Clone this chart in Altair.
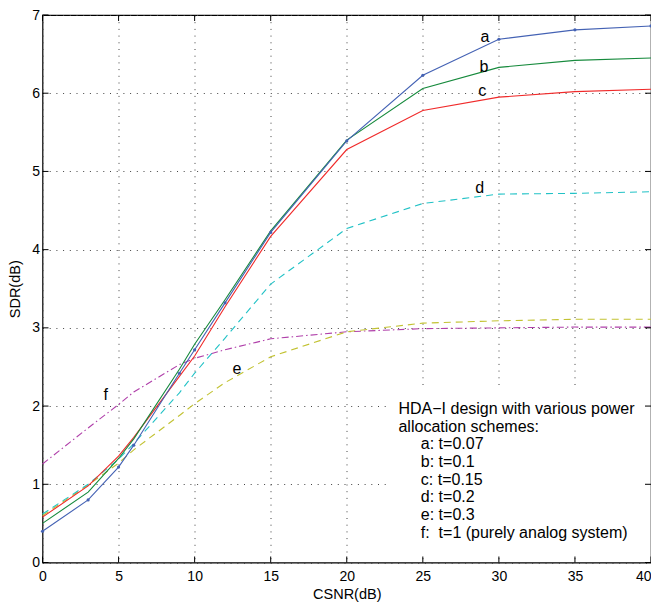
import altair as alt
import pandas as pd

# ---- data ----
csnr = [0, 3, 5, 6, 9, 10, 12, 15, 20, 25, 30, 35, 40]
sdr_a = [0.40, 0.80, 1.22, 1.50, 2.42, 2.72, 3.32, 4.22, 5.39, 6.23, 6.69, 6.81, 6.86]
sdr_b = [0.50, 0.90, 1.33, 1.58, 2.47, 2.79, 3.36, 4.24, 5.40, 6.06, 6.33, 6.42, 6.45]
sdr_c = [0.58, 0.98, 1.36, 1.60, 2.38, 2.64, 3.27, 4.17, 5.28, 5.78, 5.95, 6.02, 6.05]
sdr_d = [0.62, 1.00, 1.32, 1.52, 2.17, 2.42, 2.87, 3.56, 4.27, 4.59, 4.71, 4.72, 4.74]
sdr_e = [0.60, 0.99, 1.27, 1.44, 1.88, 2.03, 2.30, 2.63, 2.95, 3.06, 3.09, 3.11, 3.11]
sdr_f = [1.26, 1.72, 2.02, 2.18, 2.53, 2.61, 2.72, 2.86, 2.95, 2.99, 3.00, 3.01, 3.01]

series_names = ["a", "b", "c", "d", "e", "f"]
series_values = [sdr_a, sdr_b, sdr_c, sdr_d, sdr_e, sdr_f]
series_colors = ["#4462b4", "#168a3c", "#f02a2a", "#22c2c6", "#c2c232", "#b040aa"]
series_dash = [None, None, None, [7, 5], [7, 5], [7, 3, 1.5, 3]]

# curve labels (data coordinates)
label_text = ["a", "b", "c", "d", "e", "f"]
label_x = [29.08, 29.02, 28.90, 28.74, 12.79, 4.15]
label_y = [6.656, 6.276, 5.970, 4.724, 2.415, 2.078]

# legend text block
legend_head = ["HDA\u2212I design with various power", "allocation schemes:"]
legend_items = ["a: t=0.07", "b: t=0.1", "c: t=0.15", "d: t=0.2", "e: t=0.3",
                "f:\u00a0 t=1 (purely analog system)"]
legend_head_x = 23.40
legend_item_x = 24.87
legend_y = [1.896, 1.671, 1.446, 1.220, 0.995, 0.770, 0.544, 0.319]
legend_box_x = [22.9, 39.93]
legend_box_y = [0.07, 2.22]

x_ticks = [0, 5, 10, 15, 20, 25, 30, 35, 40]
y_ticks = [0, 1, 2, 3, 4, 5, 6, 7]

W, H = 608.5, 547.5
FONT = "Liberation Sans"

xs = alt.Scale(domain=[0, 40], nice=False, zero=False)
ys = alt.Scale(domain=[0, 7], nice=False, zero=False)

x_axis = alt.Axis(values=x_ticks, grid=True, gridDash=[1, 5.7], gridColor="#444444",
                  gridWidth=1, gridOpacity=1, ticks=False, tickSize=0, domain=False,
                  format="d",
                  labelAlign={"expr": "datum.value == 40 ? 'right' : 'center'"},
                  labelFont=FONT, labelFontSize=14, labelColor="black", labelPadding=7,
                  title="CSNR(dB)", titleFont=FONT, titleFontSize=14.5,
                  titleFontWeight="normal", titleColor="black",
                  titleY=35.5, titleBaseline="alphabetic")
y_axis = alt.Axis(values=y_ticks, grid=True, gridDash=[1, 5.7], gridColor="#444444",
                  gridWidth=1, gridOpacity=1, ticks=False, tickSize=0, domain=False,
                  format="d",
                  labelFont=FONT, labelFontSize=14, labelColor="black", labelPadding=3,
                  title="SDR(dB)", titleFont=FONT, titleFontSize=14.5,
                  titleFontWeight="normal", titleColor="black",
                  titleX=-20, titleBaseline="bottom", titleAngle=270)

layers = []

# base layer carrying the axes
axis_df = pd.DataFrame({"x": [0, 40], "y": [0, 7]})
layers.append(alt.Chart(axis_df).mark_point(opacity=0).encode(
    x=alt.X("x:Q", scale=xs, axis=x_axis),
    y=alt.Y("y:Q", scale=ys, axis=y_axis)))

# white box behind legend text
box_df = pd.DataFrame({"x": [legend_box_x[0]], "x2": [legend_box_x[1]],
                       "y": [legend_box_y[0]], "y2": [legend_box_y[1]]})
layers.append(alt.Chart(box_df).mark_rect(color="white").encode(
    x=alt.X("x:Q", scale=xs), x2="x2:Q", y=alt.Y("y:Q", scale=ys), y2="y2:Q"))

# curves (f drawn first, a last)
for name, vals, col, dash in reversed(list(zip(series_names, series_values,
                                                series_colors, series_dash))):
    df = pd.DataFrame({"x": csnr, "y": vals})
    kw = dict(color=col, strokeWidth=1.1)
    if dash is not None:
        kw["strokeDash"] = dash
    if name == "a":
        kw["point"] = alt.OverlayMarkDef(filled=True, size=10, color=col)
    layers.append(alt.Chart(df).mark_line(**kw).encode(
        x=alt.X("x:Q", scale=xs), y=alt.Y("y:Q", scale=ys)))

# curve labels
lab_df = pd.DataFrame({"x": label_x, "y": label_y, "t": label_text})
layers.append(alt.Chart(lab_df).mark_text(font=FONT, fontSize=16, color="black",
                                          align="center", baseline="alphabetic").encode(
    x=alt.X("x:Q", scale=xs), y=alt.Y("y:Q", scale=ys), text="t:N"))

# legend text
head_df = pd.DataFrame({"x": [legend_head_x] * 2, "y": legend_y[:2], "t": legend_head})
item_df = pd.DataFrame({"x": [legend_item_x] * 6, "y": legend_y[2:], "t": legend_items})
for d in (head_df, item_df):
    layers.append(alt.Chart(d).mark_text(font=FONT, fontSize=16, color="black",
                                         align="left", baseline="alphabetic").encode(
        x=alt.X("x:Q", scale=xs), y=alt.Y("y:Q", scale=ys), text="t:N"))

# inward ticks on all four sides
xt_df = pd.DataFrame({"x": x_ticks})
yt_df = pd.DataFrame({"y": y_ticks})
TL = 6
layers.append(alt.Chart(xt_df).mark_rule(color="black", strokeWidth=1).encode(
    x=alt.X("x:Q", scale=xs), y=alt.value(H), y2=alt.value(H - TL)))
layers.append(alt.Chart(xt_df).mark_rule(color="black", strokeWidth=1).encode(
    x=alt.X("x:Q", scale=xs), y=alt.value(0), y2=alt.value(TL)))
layers.append(alt.Chart(yt_df).mark_rule(color="black", strokeWidth=1).encode(
    y=alt.Y("y:Q", scale=ys), x=alt.value(0), x2=alt.value(TL)))
layers.append(alt.Chart(yt_df).mark_rule(color="black", strokeWidth=1).encode(
    y=alt.Y("y:Q", scale=ys), x=alt.value(W), x2=alt.value(W - TL)))

chart = alt.layer(*layers).properties(
    width=W, height=H,
    padding={"left": 34.5, "top": 7, "right": 0, "bottom": 40},
    autosize=alt.AutoSizeParams(type="none"),
    background="white",
).configure_view(stroke="black", strokeWidth=1.2)

chart.save("out.html", embed_options={"renderer": "svg", "actions": False})
